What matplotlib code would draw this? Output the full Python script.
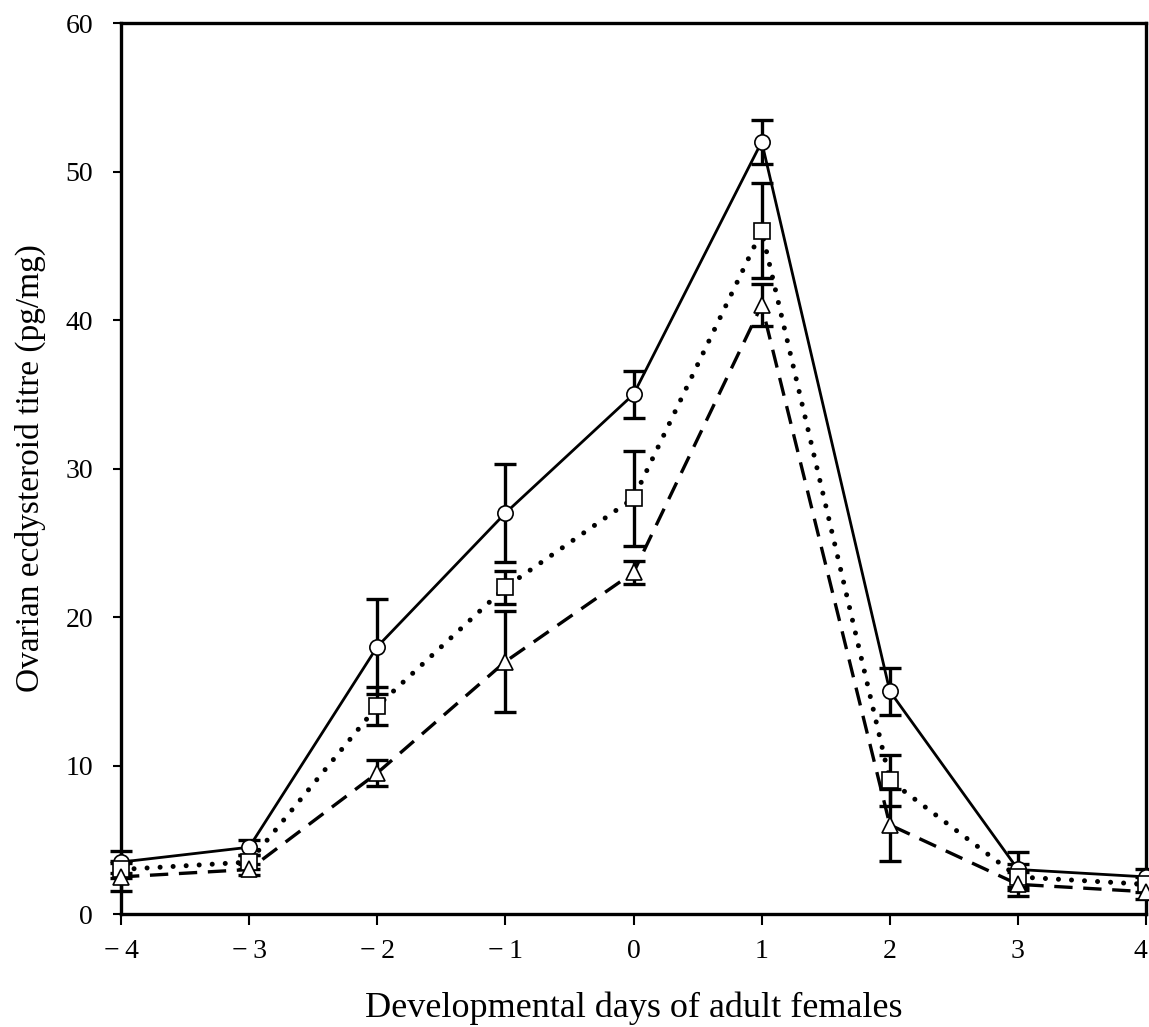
#!/usr/bin/env python3
import matplotlib
matplotlib.use('Agg')
import numpy as np
import matplotlib.pyplot as plt
import matplotlib.transforms as mtransforms

plt.rcParams['font.family'] = ['Liberation Serif', 'DejaVu Serif']

days = [-4, -3, -2, -1, 0, 1, 2, 3, 4]

circle_vals = [3.5, 4.5, 18.0, 27.0, 35.0, 52.0, 15.0, 3.0, 2.5]
circle_err = [0.75, 0.5, 3.2, 3.3, 1.6, 1.5, 1.6, 1.2, 0.5]

square_vals = [3.0, 3.5, 14.0, 22.0, 28.0, 46.0, 9.0, 2.5, 2.0]
square_err = [0.6, 0.5, 1.3, 1.1, 3.2, 3.2, 1.7, 0.9, 0.5]

triangle_vals = [2.5, 3.0, 9.5, 17.0, 23.0, 41.0, 6.0, 2.0, 1.5]
triangle_err = [0.95, 0.4, 0.9, 3.4, 0.75, 1.4, 2.4, 0.8, 0.5]

xtick_labels = ['\u2212\u20094', '\u2212\u20093', '\u2212\u20092', '\u2212\u20091',
                '0', '1', '2', '3', '4']
yticks = [0, 10, 20, 30, 40, 50, 60]

fig = plt.figure(figsize=(11.49, 10.27), dpi=100)
ax = fig.add_axes([0.1053, 0.110, 0.8922, 0.8676])

series = [
    (circle_vals, circle_err, 'o', (0, (1, 0)), 2.0),
    (square_vals, square_err, 's', (0, (0.01, 2.6)), 3.6),
    (triangle_vals, triangle_err, '^', (0, (5.5, 3.2)), 2.4),
]
for vals, err, marker, ls, lw in series:
    ax.plot(days, vals, color='black', linewidth=lw, linestyle=ls,
            dash_capstyle='round' if marker == 's' else 'butt', zorder=2)
    ax.errorbar(days, vals, yerr=err, fmt='none', ecolor='black',
                elinewidth=2.4, capsize=8, capthick=2.4, zorder=3, clip_on=False)
    ax.plot(days, vals, linestyle='none', marker=marker, markersize=11,
            markerfacecolor='white', markeredgecolor='black',
            markeredgewidth=1.2, zorder=4, clip_on=False)

ax.set_xlim(-4, 4)
ax.set_ylim(0, 60)
ax.set_xticks(days)
ax.set_xticklabels(xtick_labels, fontsize=20)
ax.set_yticks(yticks)
ax.tick_params(axis='y', labelsize=20, direction='out', length=6, width=1.5, pad=14)
ax.tick_params(axis='x', direction='out', length=8, width=1.5, pad=10)

# nudge the last x label so it stays inside the figure
last = ax.get_xticklabels()[-1]
last.set_transform(last.get_transform() + mtransforms.ScaledTranslation(-6 / 100, 0, fig.dpi_scale_trans))

for sp in ax.spines.values():
    sp.set_linewidth(2.4)

ax.set_xlabel('Developmental days of adult females', fontsize=26, labelpad=20)
ax.set_ylabel('Ovarian ecdysteroid titre (pg/mg)', fontsize=24, labelpad=14)

fig.savefig('out.png', dpi=100)
